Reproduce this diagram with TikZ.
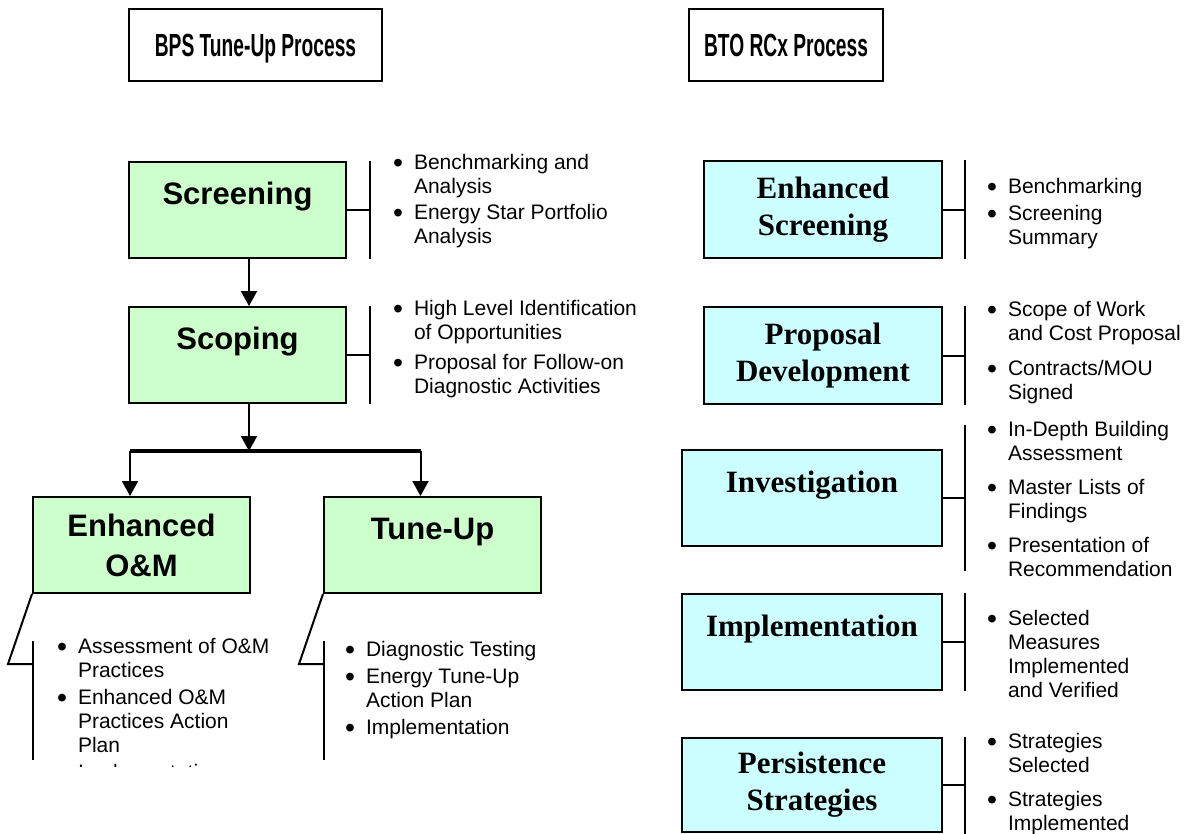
\documentclass[tikz,border=0pt]{standalone}
\usepackage{fontspec}
\setmainfont{Liberation Sans}
\newfontfamily\timesfont{Liberation Serif}
\newfontfamily\narrowfont[FakeStretch=0.6]{Liberation Sans}
\usetikzlibrary{arrows.meta, positioning}
\definecolor{stepgreen}{HTML}{CCFFCC}
\definecolor{stepcyan}{HTML}{CCFFFF}
\newcommand{\bul}{\makebox[21pt][l]{\raisebox{-3pt}{\scalebox{1.35}{\textbullet}}}}
\newcommand{\ind}{\hspace*{21pt}}

\begin{document}
\begin{tikzpicture}[x=1pt, y=-1pt, line width=2pt,
	>={Triangle[width=16pt,length=15pt]},
	titlebox/.style={draw, fill=white, anchor=north west, inner sep=0pt, text height=47pt, text depth=25pt, font=\narrowfont\bfseries\fontsize{32}{38}\selectfont},
	greenbox/.style={draw, fill=stepgreen, anchor=north west, inner sep=0pt, minimum width=217pt, minimum height=96pt, align=center, font=\bfseries\fontsize{31}{40}\selectfont},
	cyanbox/.style={draw, fill=stepcyan, anchor=north west, inner sep=0pt, minimum height=96pt, align=center, font=\timesfont\bfseries\fontsize{31}{37}\selectfont},
	topline/.style={text height=42pt, text depth=54pt},
	bullets/.style={anchor=north west, inner sep=0pt, align=left, font=\fontsize{21}{24}\selectfont}]

	\useasboundingbox (0,0) rectangle (1191,833);

	\node[titlebox, minimum width=253pt] (bpst) at (128,8) {BPS Tune-Up Process};
	\node[titlebox, minimum width=194pt] (btot) at (688,8) {BTO RCx Process};

	% BPS tune-up side
	\node[greenbox, topline] (scr) at (128,161) {Screening};
	\node[greenbox, topline, below=47pt of scr] (sco) {Scoping};
	\node[greenbox] (eom) at (32,496) {Enhanced\\O\&M};
	\node[greenbox, topline, right=72pt of eom] (tu) {Tune-Up};

	\node[bullets] (scrl) at (392,153) {
		\bul Benchmarking and\\
		\ind Analysis\\[2pt]
		\bul Energy Star Portfolio\\
		\ind Analysis
	};
	\node[bullets] (scol) at (392,299) {
		\bul High Level Identification\\
		\ind of Opportunities\\[6pt]
		\bul Proposal for Follow-on\\
		\ind Diagnostic Activities
	};
	\begin{scope}
		\clip (0,0) rectangle (660,766);
		\node[bullets] (eoml) at (56,637) {
			\bul Assessment of O\&M\\
			\ind Practices\\[3pt]
			\bul Enhanced O\&M\\
			\ind Practices Action\\
			\ind Plan\\[3pt]
			\bul Implementation
		};
	\end{scope}
	\node[bullets] (tul) at (344,640) {
		\bul Diagnostic Testing\\[3pt]
		\bul Energy Tune-Up\\
		\ind Action Plan\\[3pt]
		\bul Implementation
	};

	\coordinate (scrk) at ([xshift=23pt]scr.east);
	\coordinate (scok) at ([xshift=23pt]sco.east);
	\draw (scr.east) -- (scrk);
	\draw (scrk |- scr.north) -- (scrk |- scr.south);
	\draw (sco.east) -- (scok);
	\draw (scok |- sco.north) -- (scok |- sco.south);

	\draw[->] ([xshift=11.5pt]scr.south) -- ([xshift=11.5pt]sco.north);
	\coordinate (split) at ([xshift=11.5pt, yshift=-47pt]sco.south);
	\draw[->] ([xshift=11.5pt]sco.south) -- (split);
	\coordinate (barl) at ([xshift=-11.5pt]eom.north |- split);
	\coordinate (barr) at ([xshift=-12pt]tu.north |- split);
	\draw[line width=4pt] (barl) -- (barr);
	\draw[->] (barl) -- ([xshift=-11.5pt]eom.north);
	\draw[->] (barr) -- ([xshift=-12pt]tu.north);

	\draw (eom.south west) -- ++(-24,70) -- ++(25,0);
	\draw ([xshift=1pt, yshift=-47pt]eom.south west) -- ++(0,119);
	\draw (tu.south west) -- ++(-24,70) -- ++(25,0);
	\draw ([xshift=1pt, yshift=-47pt]tu.south west) -- ++(0,119);

	% BTO RCx side
	\node[cyanbox, minimum width=238pt, minimum height=97pt] (es) at (703,160) {Enhanced\\Screening};
	\node[cyanbox, minimum width=238pt, minimum height=97pt, below=47pt of es] (pd) {Proposal\\Development};
	\node[cyanbox, topline, minimum width=260pt] (inv) at (681,449) {Investigation};
	\node[cyanbox, topline, minimum width=260pt] (imp) at (681,593) {Implementation};
	\node[cyanbox, minimum width=260pt, minimum height=94pt] (ps) at (681,737) {Persistence\\Strategies};

	\node[bullets] (esl) at (986,177) {
		\bul Benchmarking\\[3pt]
		\bul Screening\\
		\ind Summary
	};
	\node[bullets] (pdl) at (986,300) {
		\bul Scope of Work\\
		\ind and Cost Proposal\\[11pt]
		\bul Contracts/MOU\\
		\ind Signed
	};
	\node[bullets] (invl) at (986,420) {
		\bul In-Depth Building\\
		\ind Assessment\\[10pt]
		\bul Master Lists of\\
		\ind Findings\\[10pt]
		\bul Presentation of\\
		\ind Recommendation
	};
	\node[bullets] (impl) at (986,609) {
		\bul Selected\\
		\ind Measures\\
		\ind Implemented\\
		\ind and Verified
	};
	\node[bullets] (psl) at (986,732) {
		\bul Strategies\\
		\ind Selected\\[10pt]
		\bul Strategies\\
		\ind Implemented
	};

	\coordinate (esk) at ([xshift=22pt]es.east);
	\coordinate (pdk) at ([xshift=22pt]pd.east);
	\coordinate (invk) at ([xshift=22pt]inv.east);
	\coordinate (impk) at ([xshift=22pt]imp.east);
	\coordinate (psk) at ([xshift=22pt]ps.east);
	\draw (es.east) -- (esk);
	\draw (esk |- es.north) -- (esk |- es.south);
	\draw (pd.east) -- (pdk);
	\draw (pdk |- pd.north) -- (pdk |- pd.south);
	\draw (inv.east) -- (invk);
	\draw ([yshift=24pt]invk |- inv.north) -- ([yshift=-24pt]invk |- inv.south);
	\draw (imp.east) -- (impk);
	\draw (impk |- imp.north) -- (impk |- imp.south);
	\draw (ps.east) -- (psk);
	\draw (psk |- ps.north) -- ([yshift=-10pt]psk |- ps.south);

\end{tikzpicture}
\end{document}
